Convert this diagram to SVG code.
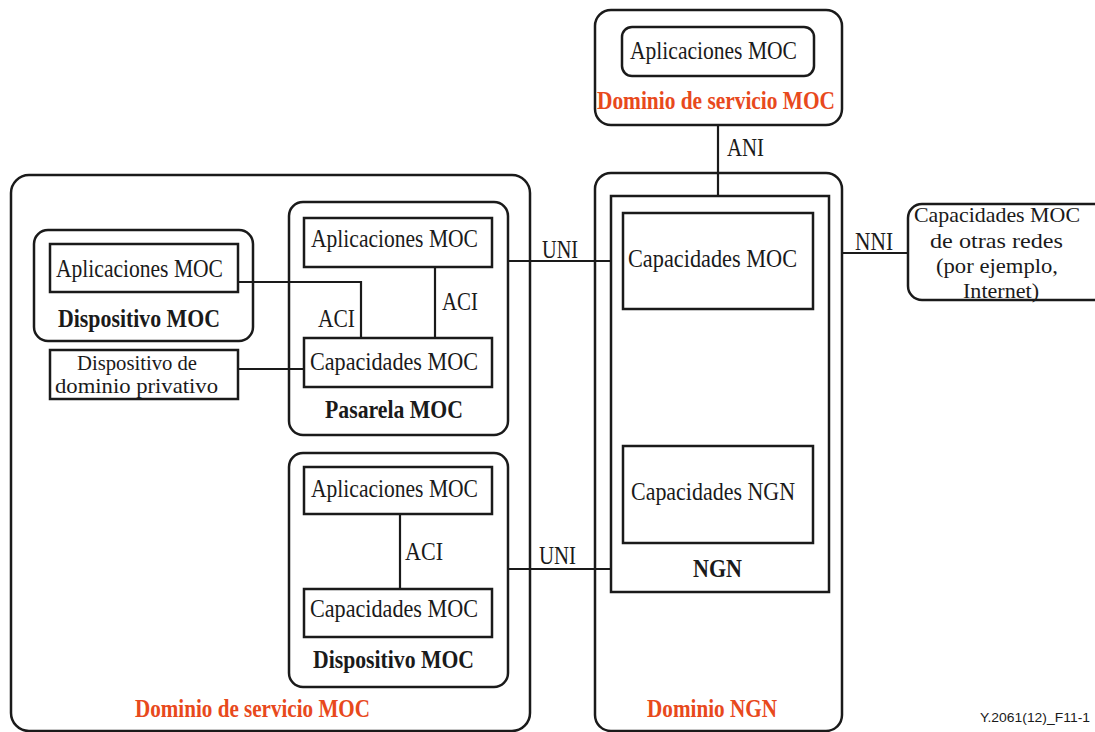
<svg xmlns="http://www.w3.org/2000/svg" width="1095" height="732" viewBox="0 0 1095 732">
  <style>
    .box { fill: none; stroke: #1a1a1a; stroke-width: 2.5; }
    .ln { fill: none; stroke: #1a1a1a; stroke-width: 2.2; }
    text { font-family: 'Liberation Serif', 'DejaVu Serif', 'Times New Roman', Times, serif; }
    .t { font-size: 25px; fill: #1a1a1a; }
    .tm { font-size: 21px; fill: #1a1a1a; }
    .b { font-size: 26px; font-weight: bold; fill: #1a1a1a; }
    .o { font-size: 26px; font-weight: bold; fill: #e8491c; }
    text.ref { font-family: 'Liberation Sans', Arial, sans-serif; font-size: 13px; fill: #1a1a1a; }
  </style>
  <rect width="1095" height="732" fill="#ffffff"/>

  <!-- Connectors -->
  <g id="connectors">
    <!-- ANI -->
    <line class="ln" x1="718" y1="125" x2="718" y2="196"/>
    <text class="t" x="727" y="156" textLength="37" lengthAdjust="spacingAndGlyphs">ANI</text>
    <!-- UNI (gateway) -->
    <line class="ln" x1="508" y1="261" x2="611" y2="261"/>
    <text class="t" x="542" y="258" textLength="36" lengthAdjust="spacingAndGlyphs">UNI</text>
    <!-- UNI (device) -->
    <line class="ln" x1="508" y1="569" x2="611" y2="569"/>
    <text class="t" x="539" y="564" textLength="37" lengthAdjust="spacingAndGlyphs">UNI</text>
    <!-- NNI -->
    <line class="ln" x1="842" y1="253" x2="908" y2="253"/>
    <text class="t" x="855" y="250" textLength="38" lengthAdjust="spacingAndGlyphs">NNI</text>
    <!-- ACI: device applications to gateway capabilities -->
    <polyline class="ln" points="238,282 361,282 361,338"/>
    <text class="t" x="318" y="327" textLength="37" lengthAdjust="spacingAndGlyphs">ACI</text>
    <!-- ACI inside gateway -->
    <line class="ln" x1="435" y1="267" x2="435" y2="338"/>
    <text class="t" x="442" y="310" textLength="36" lengthAdjust="spacingAndGlyphs">ACI</text>
    <!-- private domain device to gateway -->
    <line class="ln" x1="238" y1="369" x2="304" y2="369"/>
    <!-- ACI inside device -->
    <line class="ln" x1="400" y1="514" x2="400" y2="589"/>
    <text class="t" x="405" y="560" textLength="38" lengthAdjust="spacingAndGlyphs">ACI</text>
  </g>

  <!-- MOC service domain (top) -->
  <g id="moc-service-domain-top">
    <rect class="box" x="595" y="10" width="247" height="115" rx="16"/>
    <rect class="box" x="622" y="27" width="192" height="49" rx="10"/>
    <text class="t" x="630" y="59" textLength="167" lengthAdjust="spacingAndGlyphs">Aplicaciones MOC</text>
    <text class="o" x="597" y="109" textLength="238" lengthAdjust="spacingAndGlyphs">Dominio de servicio MOC</text>
  </g>

  <!-- NGN domain -->
  <g id="ngn-domain">
    <rect class="box" x="595" y="173" width="247" height="558" rx="16"/>
    <text class="o" x="647" y="717" textLength="130" lengthAdjust="spacingAndGlyphs">Dominio NGN</text>
  </g>
  <g id="ngn">
    <rect class="box" x="611" y="196" width="218" height="396"/>
    <text class="b" x="693" y="577" textLength="49" lengthAdjust="spacingAndGlyphs">NGN</text>
  </g>
  <g id="ngn-moc-capabilities">
    <rect class="box" x="623" y="213" width="190" height="96"/>
    <text class="t" x="628" y="267" textLength="169" lengthAdjust="spacingAndGlyphs">Capacidades MOC</text>
  </g>
  <g id="ngn-capabilities">
    <rect class="box" x="623" y="446" width="190" height="97"/>
    <text class="t" x="631" y="500" textLength="164" lengthAdjust="spacingAndGlyphs">Capacidades NGN</text>
  </g>

  <!-- Other networks -->
  <g id="other-networks">
    <rect class="box" x="908" y="204" width="200" height="96" rx="14"/>
    <text class="tm" x="914" y="222" textLength="166" lengthAdjust="spacingAndGlyphs">Capacidades MOC</text>
    <text class="tm" x="930" y="248" textLength="133" lengthAdjust="spacingAndGlyphs">de otras redes</text>
    <text class="tm" x="936" y="273" textLength="122" lengthAdjust="spacingAndGlyphs">(por ejemplo,</text>
    <text class="tm" x="963" y="298" textLength="76" lengthAdjust="spacingAndGlyphs">Internet)</text>
  </g>

  <!-- MOC service domain (customer side) -->
  <g id="moc-service-domain">
    <rect class="box" x="11" y="175" width="519" height="556" rx="18"/>
    <text class="o" x="135" y="717" textLength="235" lengthAdjust="spacingAndGlyphs">Dominio de servicio MOC</text>
  </g>

  <g id="moc-device-left">
    <rect class="box" x="34" y="230" width="219" height="111" rx="14"/>
    <rect class="box" x="50" y="244" width="188" height="48"/>
    <text class="t" x="56" y="277" textLength="167" lengthAdjust="spacingAndGlyphs">Aplicaciones MOC</text>
    <text class="b" x="58" y="327" textLength="162" lengthAdjust="spacingAndGlyphs">Dispositivo MOC</text>
  </g>

  <g id="private-domain-device">
    <rect class="box" x="50" y="350" width="188" height="49"/>
    <text class="tm" x="77" y="370" textLength="120" lengthAdjust="spacingAndGlyphs">Dispositivo de</text>
    <text class="tm" x="55" y="393" textLength="163" lengthAdjust="spacingAndGlyphs">dominio privativo</text>
  </g>

  <g id="moc-gateway">
    <rect class="box" x="289" y="202" width="219" height="233" rx="14"/>
    <rect class="box" x="304" y="218" width="188" height="49"/>
    <text class="t" x="311" y="247" textLength="167" lengthAdjust="spacingAndGlyphs">Aplicaciones MOC</text>
    <rect class="box" x="304" y="338" width="188" height="49"/>
    <text class="t" x="310" y="370" textLength="168" lengthAdjust="spacingAndGlyphs">Capacidades MOC</text>
    <text class="b" x="325" y="418" textLength="138" lengthAdjust="spacingAndGlyphs">Pasarela MOC</text>
  </g>

  <g id="moc-device">
    <rect class="box" x="289" y="453" width="219" height="234" rx="14"/>
    <rect class="box" x="304" y="467" width="188" height="47"/>
    <text class="t" x="311" y="497" textLength="167" lengthAdjust="spacingAndGlyphs">Aplicaciones MOC</text>
    <rect class="box" x="304" y="589" width="188" height="48"/>
    <text class="t" x="310" y="617" textLength="168" lengthAdjust="spacingAndGlyphs">Capacidades MOC</text>
    <text class="b" x="313" y="668" textLength="161" lengthAdjust="spacingAndGlyphs">Dispositivo MOC</text>
  </g>

  <text class="ref" x="980" y="722" textLength="110" lengthAdjust="spacingAndGlyphs">Y.2061(12)_F11-1</text>
</svg>
